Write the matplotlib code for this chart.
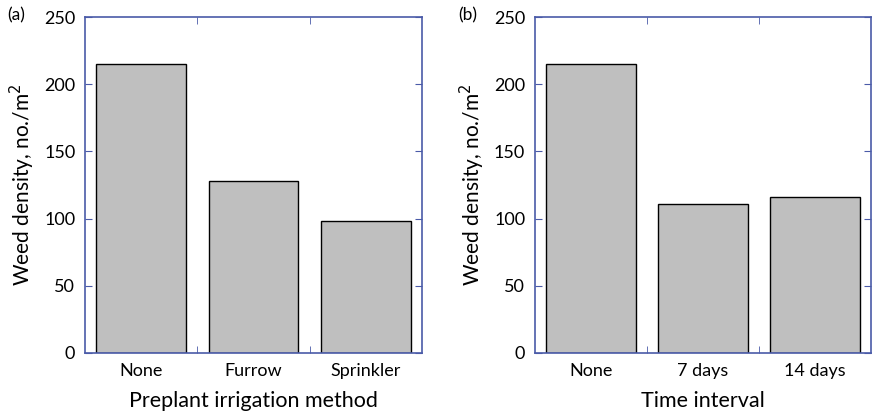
import matplotlib
matplotlib.use("Agg")
import matplotlib.pyplot as plt
from matplotlib.ticker import FixedLocator

plt.rcParams['font.family'] = ['Lato', 'DejaVu Sans']

cats_a = ["None", "Furrow", "Sprinkler"]
vals_a = [215, 128, 98]
cats_b = ["None", "7 days", "14 days"]
vals_b = [215, 111, 116]
yticks = [0, 50, 100, 150, 200, 250]

spine_col = "#4a5ba8"
fig = plt.figure(figsize=(8.72, 4.17), dpi=100)
ax_a = fig.add_axes([0.0975, 0.1535, 0.3865, 0.8055])
ax_b = fig.add_axes([0.6135, 0.1535, 0.3850, 0.8055])

for ax, cats, vals, xl, lab in [(ax_a, cats_a, vals_a, "Preplant irrigation method", "(a)"),
                                (ax_b, cats_b, vals_b, "Time interval", "(b)")]:
    x = list(range(len(cats)))
    ax.bar(x, vals, width=0.8, color="#bfbfbf", edgecolor="black", linewidth=1.0, zorder=2)
    ax.set_xlim(-0.5, len(cats) - 0.5)
    ax.set_ylim(0, 250)
    ax.set_yticks(yticks)
    ax.set_xticks(x)
    ax.set_xticklabels(cats, fontsize=13)
    ax.xaxis.set_minor_locator(FixedLocator([i + 0.5 for i in range(len(cats) - 1)]))
    ax.tick_params(axis='x', which='major', length=0, pad=7)
    ax.tick_params(axis='x', which='minor', direction='in', length=5, color=spine_col, top=True, bottom=True)
    ax.tick_params(axis='y', which='major', direction='in', length=5, color=spine_col,
                   left=True, right=True, labelsize=13, pad=7)
    for s in ax.spines.values():
        s.set_color(spine_col)
        s.set_linewidth(1.2)
        s.set_zorder(3)
    ax.set_xlabel(xl, fontsize=15.5, labelpad=9)
    ax.set_ylabel("Weed density, no./m$^2$", fontsize=15, labelpad=5)

fig.text(0.008, 0.962, "(a)", fontsize=12.5, va='center', ha='left')
fig.text(0.525, 0.962, "(b)", fontsize=12.5, va='center', ha='left')

fig.savefig("out.png", dpi=100)
